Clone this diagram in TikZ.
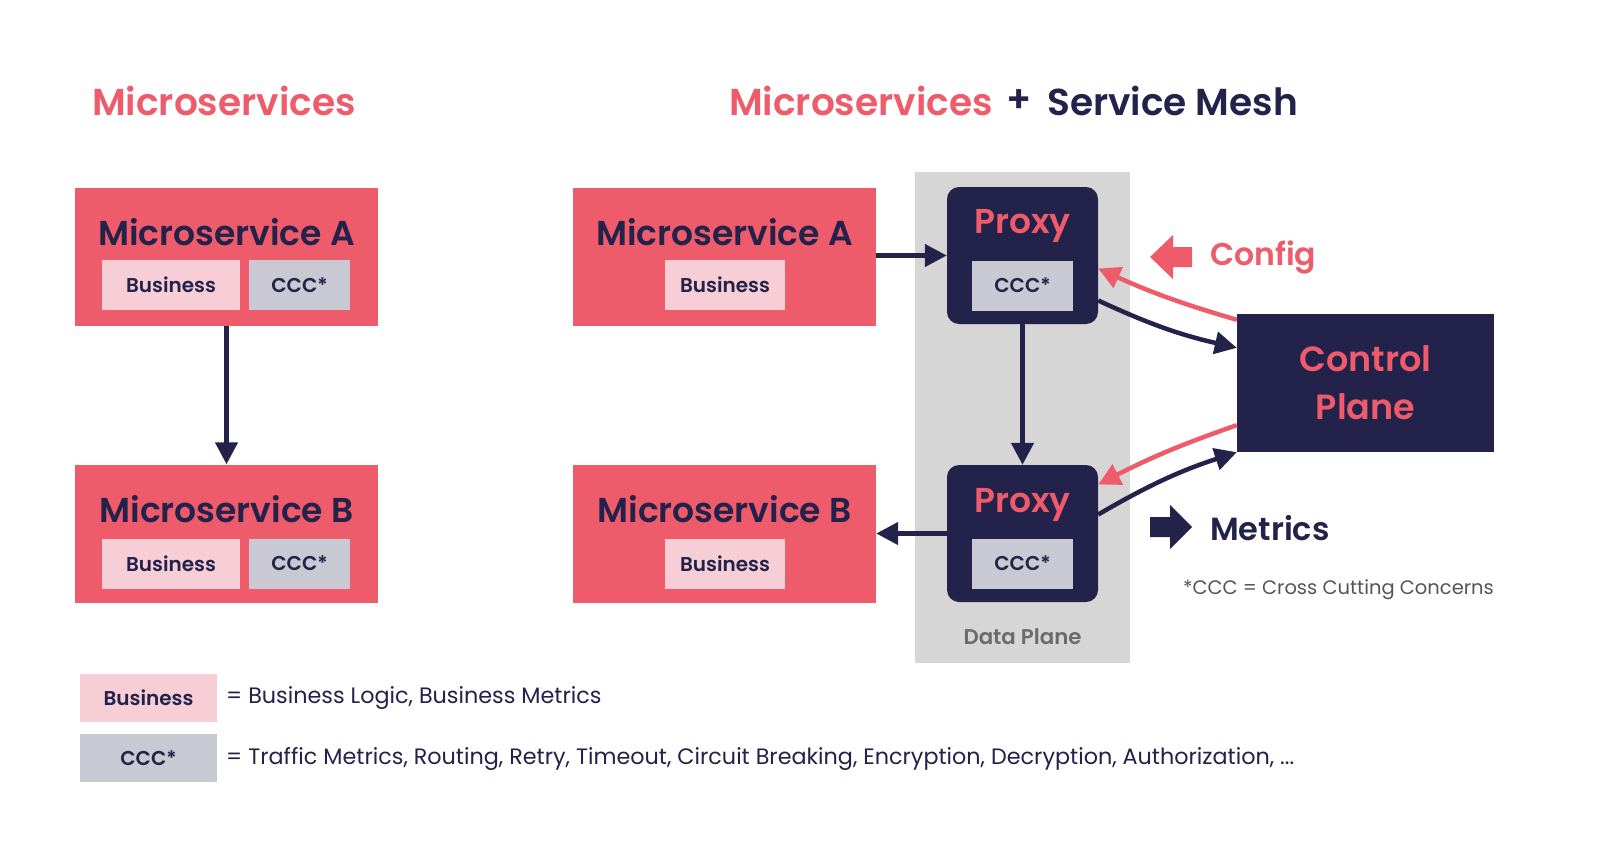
\documentclass[tikz,border=0pt]{standalone}
\usepackage{fontspec}
\IfFontExistsTF{Poppins SemiBold}{\setmainfont{Poppins}[BoldFont={Poppins SemiBold}]}{\setmainfont{Poppins}}
\usetikzlibrary{arrows.meta}
\definecolor{pinkc}{HTML}{EE5B6B}
\definecolor{navy}{HTML}{22224A}
\definecolor{lpink}{HTML}{F7CDD6}
\definecolor{lgray}{HTML}{C8C9D3}
\definecolor{dpfill}{HTML}{D6D6D6}
\definecolor{dptext}{HTML}{6B6B6B}
\definecolor{notec}{HTML}{555555}
\begin{document}
\begin{tikzpicture}[x=1pt,y=-1pt,
  ms/.style={fill=pinkc, minimum width=303pt, minimum height=138pt, inner sep=0pt},
  mstitle/.style={text=navy, font=\bfseries\fontsize{34.5}{38}\selectfont, inner sep=0pt},
  bizbox/.style={fill=lpink, minimum width=138pt, minimum height=50pt, inner sep=0pt, text=navy, font=\bfseries\fontsize{20}{22}\selectfont},
  bizbox2/.style={bizbox, minimum width=120pt},
  cccbox/.style={fill=lgray, minimum width=101pt, minimum height=50pt, inner sep=0pt, text=navy, font=\bfseries\fontsize{20}{22}\selectfont},
  proxybox/.style={fill=navy, rounded corners=12pt, minimum width=151pt, minimum height=137pt, inner sep=0pt},
  proxytitle/.style={text=pinkc, font=\bfseries\fontsize{34.5}{38}\selectfont, inner sep=0pt},
  flow/.style={draw=navy, line width=4.5pt, -{Triangle[length=22pt,width=22pt]}},
  cfg/.style={draw=pinkc, line width=4.5pt, -{Triangle[length=22pt,width=22pt]}},
  heading/.style={font=\bfseries\fontsize{37.5}{40}\selectfont, inner sep=0pt},
  legtext/.style={text=navy, font=\fontsize{22.3}{24}\selectfont, anchor=west, inner sep=0pt}
]
\useasboundingbox (0,0) rectangle (1600,867);
\fill[white] (0,0) rectangle (1600,867);

% headings
\node[heading, text=pinkc, anchor=west] (h1) at (92,101) {Microservices};
\node[heading, text=pinkc, anchor=west] (h2) at (729,101) {Microservices};
\node[heading, text=navy, anchor=west] (h3) at (1006,101) {+};
\node[heading, text=navy, anchor=west] (h4) at (1047,101) {Service Mesh};

% left side
\node[ms] (la) at (226.5,257) {};
\node[mstitle] (lat) at (226.5,232) {Microservice A};
\node[bizbox] (lab) at (171,285) {Business};
\node[cccbox] (lac) at (299.5,285) {CCC*};

\node[ms] (lb) at (226.5,533.5) {};
\node[mstitle] (lbt) at (226.5,509) {Microservice B};
\node[bizbox] (lbb) at (171,563.5) {Business};
\node[cccbox] (lbc) at (299.5,563.5) {CCC*};

\draw[flow] (la.south) -- (lb.north);

% data plane
\node[fill=dpfill, minimum width=215pt, minimum height=491pt, inner sep=0pt] (dp) at (1022.5,417.5) {};
\node[text=dptext, font=\bfseries\fontsize{21.3}{24}\selectfont, inner sep=0pt] (dpl) at (1022.5,637) {Data Plane};

% right side
\node[ms] (ra) at (724.5,257) {};
\node[mstitle] (rat) at (724.5,232) {Microservice A};
\node[bizbox2] (rab) at (725,285) {Business};

\node[ms] (rb) at (724.5,533.5) {};
\node[mstitle] (rbt) at (724.5,509) {Microservice B};
\node[bizbox2] (rbb) at (725,563.5) {Business};

\node[proxybox] (pt) at (1022.5,255.5) {};
\node[proxytitle] (ptt) at (1022.5,226) {Proxy};
\node[cccbox] (ptc) at (1022.5,285.5) {CCC*};

\node[proxybox] (pb) at (1022.5,533.5) {};
\node[proxytitle] (pbt) at (1022.5,505) {Proxy};
\node[cccbox] (pbc) at (1022.5,563.5) {CCC*};

\node[fill=navy, minimum width=257pt, minimum height=138pt, inner sep=0pt, text=pinkc,
      font=\bfseries\fontsize{35}{48}\selectfont, align=center] (cp) at (1365.5,383) {Control\\Plane};

\draw[flow] (ra.east |- pt.west) -- (pt.west);
\draw[flow] (pt.south) -- (pb.north);
\draw[flow] (pb.west) -- (rb.east);

\draw[cfg] ([yshift=-6pt]cp.north west) to[bend left=4] ([yshift=-13pt]pt.east);
\draw[flow] ([yshift=-45pt]pt.east) to[bend right=6] ([yshift=-34pt]cp.north west);
\draw[cfg] ([yshift=27pt]cp.south west) to[bend right=4] ([yshift=49pt]pb.east);
\draw[flow] ([yshift=19pt]pb.east) to[bend left=6] (cp.south west);

% config / metrics block arrows
\fill[pinkc] (1150,257) -- (1173,235) -- (1173,247) -- (1192,247) -- (1192,267) -- (1173,267) -- (1173,279) -- cycle;
\node[text=pinkc, font=\bfseries\fontsize{31.5}{34}\selectfont, anchor=west, inner sep=0pt] (cfgl) at (1210,257) {Config};
\fill[navy] (1192,527) -- (1170,505) -- (1170,517) -- (1150,517) -- (1150,537) -- (1170,537) -- (1170,549) -- cycle;
\node[text=navy, font=\bfseries\fontsize{32}{34}\selectfont, anchor=west, inner sep=0pt] (metl) at (1210,528) {Metrics};

\node[text=notec, font=\fontsize{19.5}{22}\selectfont, anchor=east, inner sep=0pt] (note) at (1494,590) {*CCC = Cross Cutting Concerns};

% legend
\node[bizbox, minimum width=137pt, minimum height=48pt] (legb) at (148.5,698) {Business};
\node[legtext] (legbt) at (226,698) {= Business Logic, Business Metrics};
\node[cccbox, minimum width=137pt, minimum height=48pt] (legc) at (148.5,758) {CCC*};
\node[legtext] (legct) at (226,759) {= Traffic Metrics, Routing, Retry, Timeout, Circuit Breaking, Encryption, Decryption, Authorization, ...};
\end{tikzpicture}
\end{document}
